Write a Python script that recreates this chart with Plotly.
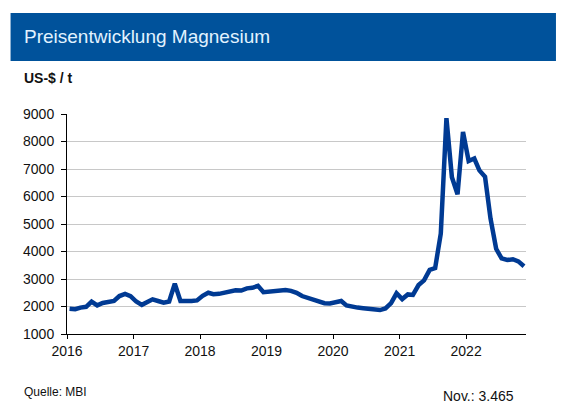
import plotly.graph_objects as go

# Monthly magnesium price, US-$ / t, Jan 2016 .. Nov 2022
months = [f"{y}-{m:02d}-15" for y in range(2016, 2023) for m in range(1, 13)][:83]

p2016 = [1920, 1900, 1960, 1990, 2180, 2040, 2130, 2160, 2200, 2380, 2460, 2380]
p2017 = [2180, 2060, 2150, 2260, 2200, 2140, 2180, 2830, 2200, 2180, 2200, 2220]
p2018 = [2390, 2500, 2450, 2460, 2500, 2540, 2590, 2580, 2660, 2680, 2750, 2520]
p2019 = [2540, 2570, 2590, 2600, 2570, 2500, 2380, 2320, 2250, 2170, 2120, 2110]
p2020 = [2140, 2200, 2040, 1990, 1960, 1940, 1930, 1920, 1870, 1930, 2120, 2480]
p2021 = [2270, 2440, 2420, 2780, 2950, 3330, 3400, 4650, 8850, 6700, 6080, 8350]
p2022 = [7290, 7380, 6950, 6720, 5200, 4100, 3750, 3690, 3720, 3640, 3465]
prices = p2016 + p2017 + p2018 + p2019 + p2020 + p2021 + p2022

year_ticks = ["2016-01-01", "2017-01-01", "2018-01-01", "2019-01-01",
              "2020-01-01", "2021-01-01", "2022-01-01"]
year_labels = ["2016", "2017", "2018", "2019", "2020", "2021", "2022"]
y_ticks = [1000, 2000, 3000, 4000, 5000, 6000, 7000, 8000, 9000]

title_text = "Preisentwicklung Magnesium"
unit_text = "US-$ / t"
source_text = "Quelle: MBI"
last_text = "Nov.: 3.465"

# page offset of the figure (default body margin)
OX, OY = 8, 8
PAGE_W, PAGE_H = 566, 414
W, H = PAGE_W - OX, PAGE_H - OY
# plot area in page pixels: x 66.5..526, y 114..334
L = 66.5 - OX
R = PAGE_W - 526
T = 114 - OY
B = PAGE_H - 334
pw, ph = W - L - R, H - T - B

def px(x):  # page x -> paper
    return (x - OX - L) / pw

def py(y):  # page y -> paper
    return (H - B - (y - OY)) / ph

FONT = "Arial, Liberation Sans, sans-serif"

fig = go.Figure()
fig.add_trace(go.Scatter(
    x=months, y=prices, mode="lines",
    line=dict(color="#003A93", width=4.5),
    hoverinfo="x+y", showlegend=False,
))

fig.update_layout(
    width=W, height=H,
    margin=dict(l=L, r=R, t=T, b=B, pad=0),
    paper_bgcolor="white", plot_bgcolor="white",
    font=dict(family=FONT, size=14, color="#111111"),
    xaxis=dict(
        type="date", range=["2016-01-01", "2022-11-26"],
        tickvals=year_ticks, ticktext=year_labels,
        showgrid=False, zeroline=False,
        showline=True, linecolor="#000000", linewidth=1,
        ticks="outside", ticklen=4, tickcolor="#000000",
        tickfont=dict(size=14, color="#111111"),
    ),
    yaxis=dict(
        range=[1000, 9000], tickvals=y_ticks,
        showgrid=True, gridcolor="#C8C8C8", gridwidth=1,
        zeroline=False,
        showline=True, linecolor="#000000", linewidth=1,
        ticks="outside", ticklen=5, tickcolor="#000000",
        tickfont=dict(size=14, color="#111111"),
        ticklabelstandoff=4,
    ),
    shapes=[dict(
        type="rect", xref="paper", yref="paper",
        x0=px(10), x1=px(556), y0=py(61), y1=py(13),
        fillcolor="#00529B", line=dict(width=0), layer="above",
    )],
    annotations=[
        dict(text=title_text, xref="paper", yref="paper", x=px(21), y=py(37),
             xanchor="left", yanchor="middle", showarrow=False,
             font=dict(size=19, color="#E2F2FF", family=FONT)),
        dict(text="<b>" + unit_text + "</b>", xref="paper", yref="paper", x=px(21), y=py(78),
             xanchor="left", yanchor="middle", showarrow=False,
             font=dict(size=14, color="#111111", family=FONT)),
        dict(text=source_text, xref="paper", yref="paper", x=px(21), y=py(392),
             xanchor="left", yanchor="middle", showarrow=False,
             font=dict(size=12, color="#111111", family=FONT)),
        dict(text=last_text, xref="paper", yref="paper", x=px(516), y=py(396),
             xanchor="right", yanchor="middle", showarrow=False,
             font=dict(size=14, color="#111111", family=FONT)),
    ],
)

fig.write_html("out.html")
